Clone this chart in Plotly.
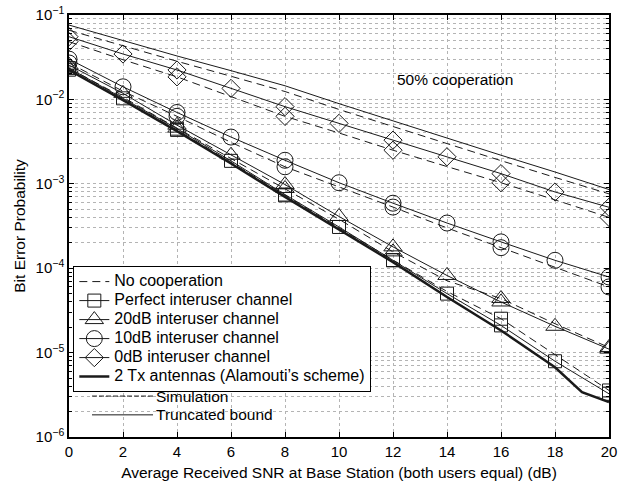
import plotly.graph_objects as go

# ---------------- data ----------------
snr = [0, 2, 4, 6, 8, 10, 12, 14, 16, 18, 20]

nocoop_bound = [0.076, 0.0497, 0.0327, 0.0219, 0.0145, 8.9e-3, 5.55e-3, 3.45e-3, 2.18e-3, 1.38e-3, 8.55e-4]
nocoop_sim = [0.066, 0.043, 0.0283, 0.0188, 0.0124, 7.6e-3, 4.75e-3, 3.0e-3, 1.88e-3, 1.19e-3, 7.6e-4]

perfect_bound = [0.0235, 0.0103, 4.5e-3, 1.87e-3, 7.46e-4, 3.08e-4, 1.24e-4, 5.0e-5, 2.1e-5, 7.9e-6, 3.25e-6]
perfect_sim = [0.0225, 0.0100, 4.35e-3, 1.8e-3, 7.3e-4, 3.0e-4, 1.25e-4, 5.3e-5, 2.52e-5, 9.4e-6, 3.56e-6]

db20_bound = [0.0255, 0.0118, 4.95e-3, 2.18e-3, 9.8e-4, 4.1e-4, 1.79e-4, 8.2e-5, 3.98e-5, 2.05e-5, 1.1e-5]
db20_sim = [0.0234, 0.0106, 4.57e-3, 2.0e-3, 8.8e-4, 3.8e-4, 1.56e-4, 7.1e-5, 4.37e-5, 2.2e-5, 1.15e-5]

db10_bound = [0.030, 0.0141, 7.0e-3, 3.58e-3, 1.9e-3, 1.03e-3, 5.89e-4, 3.43e-4, 2.05e-4, 1.24e-4, 7.87e-5]
db10_sim = [0.027, 0.0125, 6.3e-3, 3.1e-3, 1.59e-3, 9.2e-4, 5.3e-4, 3.0e-4, 1.75e-4, 1.02e-4, 6.0e-5]

db0_bound = [0.0553, 0.0345, 0.0223, 0.0135, 8.2e-3, 5.2e-3, 3.29e-3, 2.09e-3, 1.32e-3, 8.0e-4, 5.27e-4]
db0_sim = [0.0483, 0.0295, 0.0185, 0.0108, 6.3e-3, 4.0e-3, 2.5e-3, 1.6e-3, 1.03e-3, 6.45e-4, 4.0e-4]

tx2_snr = [0, 2, 4, 6, 8, 10, 12, 14, 16, 18, 19, 20]
tx2_ber = [0.0222, 0.0098, 4.2e-3, 1.74e-3, 7.0e-4, 2.9e-4, 1.18e-4, 4.55e-5, 1.83e-5, 6.7e-6, 3.4e-6, 2.59e-6]

legend_names = ["No cooperation", "Perfect interuser channel", "20dB interuser channel",
                "10dB interuser channel", "0dB interuser channel",
                "2 Tx antennas (Alamouti’s scheme)"]

y_tick_vals = [1e-6, 1e-5, 1e-4, 1e-3, 1e-2, 1e-1]
y_tick_text = ["10<sup>−6</sup>", "10<sup>−5</sup>", "10<sup>−4</sup>", "10<sup>−3</sup>",
               "10<sup>−2</sup>", "10<sup>−1</sup>"]
x_tick_vals = snr

# ---------------- styling ----------------
INK = "#1a1a1a"
GRID = "#b4b4b4"
FONT = "Liberation Sans, Arial, sans-serif"
DASH = "8px,5px"


def lg(text):
    # larger legend text while keeping compact legend rows
    return '<span style="font-size:16px">' + text + "</span>"


fig = go.Figure()

# No cooperation
fig.add_trace(go.Scatter(x=snr, y=nocoop_sim, mode="lines", name=lg(legend_names[0]),
                         line=dict(color=INK, width=1, dash=DASH), legendrank=1))
fig.add_trace(go.Scatter(x=snr, y=nocoop_bound, mode="lines", showlegend=False,
                         line=dict(color=INK, width=1)))

series = [
    (legend_names[1], perfect_bound, perfect_sim, "square-open", 13, 2),
    (legend_names[2], db20_bound, db20_sim, "triangle-up-open", 16, 3),
    (legend_names[3], db10_bound, db10_sim, "circle-open", 16, 4),
    (legend_names[4], db0_bound, db0_sim, "diamond-open", 14, 5),
]
for name, bnd, sim, sym, size, rank in series:
    mk = dict(symbol=sym, size=size, color=INK, line=dict(color=INK, width=1))
    # truncated bound: solid line, markers every 2 dB
    fig.add_trace(go.Scatter(x=snr, y=bnd, mode="lines+markers", name=lg(name),
                             line=dict(color=INK, width=1), marker=mk, legendrank=rank))
    # simulation: dashed line
    fig.add_trace(go.Scatter(x=snr, y=sim, mode="lines", showlegend=False,
                             line=dict(color=INK, width=1, dash=DASH)))
    # simulation markers every 4 dB
    fig.add_trace(go.Scatter(x=snr[::2], y=sim[::2], mode="markers", showlegend=False,
                             marker=mk))

fig.add_trace(go.Scatter(x=tx2_snr, y=tx2_ber, mode="lines", name=lg(legend_names[5]),
                         line=dict(color=INK, width=2.5), legendrank=6))

minor_vals = [m * 10.0 ** e for e in range(-6, -1) for m in range(2, 10)]

fig.update_layout(
    width=638, height=487,
    margin=dict(l=69, r=29, t=15, b=50),
    paper_bgcolor="white", plot_bgcolor="white",
    font=dict(family=FONT, size=15, color="black"),
    showlegend=True,
    legend=dict(x=0.008, y=0.405, xanchor="left", yanchor="top",
                bgcolor="white", bordercolor="black", borderwidth=1,
                font=dict(size=12.3, family=FONT), itemwidth=30,
                tracegroupgap=0, traceorder="normal"),
    xaxis=dict(range=[0, 20], tickvals=x_tick_vals, ticks="inside", ticklen=5,
               tickcolor="black", showline=True, linecolor="black", linewidth=1.5,
               mirror="ticks", showgrid=True, gridcolor=GRID, griddash="dot",
               gridwidth=1, zeroline=False, tickfont=dict(size=15), automargin=False,
               ticklabeloverflow="allow",
               title=dict(text="Average Received SNR at Base Station (both users equal) (dB)",
                          font=dict(size=15.5), standoff=8)),
    yaxis=dict(type="log", range=[-6, -1], tickvals=y_tick_vals, ticktext=y_tick_text,
               ticks="inside", ticklen=5, tickcolor="black", showline=True,
               linecolor="black", linewidth=1.5, mirror="ticks", showgrid=True,
               gridcolor=GRID, griddash="dot", gridwidth=1, zeroline=False,
               tickfont=dict(size=15), automargin=False, ticklabeloverflow="allow",
               minor=dict(tickvals=minor_vals, ticks="inside", ticklen=3,
                          tickcolor="black", showgrid=True, gridcolor=GRID,
                          griddash="dot", gridwidth=1),
               title=dict(text="Bit Error Probability", font=dict(size=15.5), standoff=6)),
)

# in-plot texts
fig.add_annotation(x=0.604, y=0.848, xref="paper", yref="paper", text="50% cooperation",
                   showarrow=False, xanchor="left", yanchor="middle", font=dict(size=15.5))
fig.add_annotation(x=0.159, y=0.097, xref="paper", yref="paper", text="Simulation",
                   showarrow=False, xanchor="left", yanchor="middle", font=dict(size=15.5),
                   borderpad=0)
fig.add_annotation(x=0.159, y=0.0525, xref="paper", yref="paper", text="Truncated bound",
                   showarrow=False, xanchor="left", yanchor="middle", font=dict(size=15.5),
                   borderpad=0)
fig.add_shape(type="line", xref="paper", yref="paper", x0=0.0426, x1=0.1556,
              y0=0.097, y1=0.097, line=dict(color=INK, width=1, dash="5px,2px"))
fig.add_shape(type="line", xref="paper", yref="paper", x0=0.0426, x1=0.1556,
              y0=0.0525, y1=0.0525, line=dict(color=INK, width=1))

# remove the browser's default 8px page margin so the figure sits at the window origin
fig.write_html("out.html", config={"displayModeBar": False},
               post_script="document.body.style.margin='0px';")
